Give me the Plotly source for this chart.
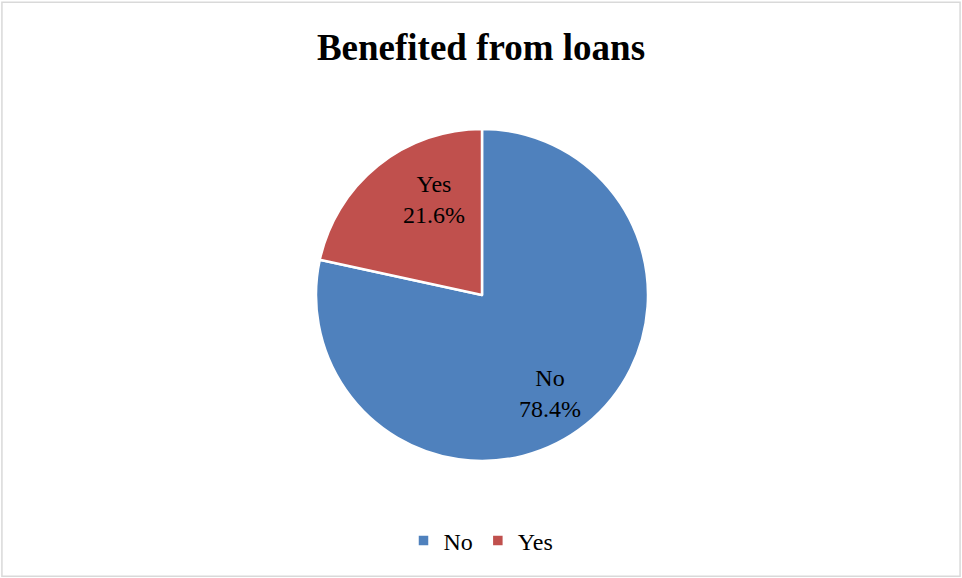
import plotly.graph_objects as go

labels = ["No", "Yes"]
values = [78.4, 21.6]
colors = ["#4F81BD", "#C0504D"]

W, H = 962, 578
cx, cy, r = 482, 295, 166

# data-label anchor points (pixel positions inside each slice)
label_px = {"No": (550, 393), "Yes": (434, 199)}

fig = go.Figure(go.Pie(
    labels=labels,
    values=values,
    sort=False,
    direction="clockwise",
    rotation=0,
    marker=dict(colors=colors, line=dict(color="white", width=2.5)),
    textinfo="none",
    domain=dict(x=[(cx - r) / W, (cx + r) / W], y=[(H - cy - r) / H, (H - cy + r) / H]),
    hoverinfo="label+percent",
))

total = sum(values)
annotations = []
for lab, val in zip(labels, values):
    px, py = label_px[lab]
    annotations.append(dict(
        text=f"{lab}<br>{val / total * 100:.1f}%",
        x=px / W, y=1 - py / H, xref="paper", yref="paper",
        xanchor="center", yanchor="middle", showarrow=False,
        font=dict(family="Liberation Serif", size=24, color="black"),
    ))

fig.update_layout(
    width=W, height=H,
    margin=dict(l=0, r=0, t=0, b=0),
    paper_bgcolor="white",
    title=dict(text="<b>Benefited from loans</b>", x=0.5, xanchor="center",
               y=1 - 47 / H, yanchor="middle", yref="container",
               font=dict(family="Liberation Serif", size=37, color="black")),
    legend=dict(orientation="h", x=0.5, xanchor="center", y=1 - 541 / H, yanchor="middle",
                font=dict(family="Liberation Serif", size=24, color="black")),
    annotations=annotations,
    shapes=[dict(type="rect", xref="paper", yref="paper", x0=0.002, x1=0.998, y0=0.003, y1=0.996,
                 line=dict(color="#D9D9D9", width=1.5))],
)

fig.write_html("out.html")
